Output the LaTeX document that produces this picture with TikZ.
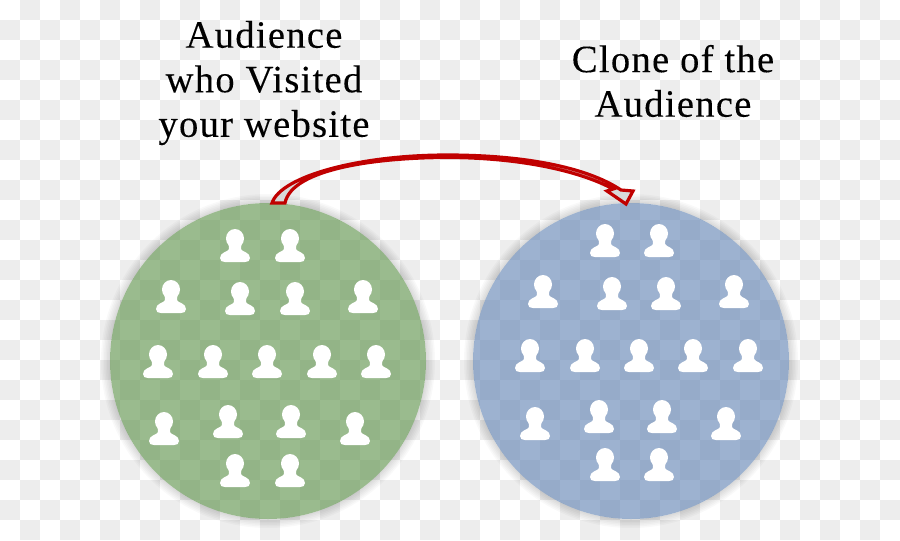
\documentclass[tikz,border=0pt]{standalone}
\usepackage{fontspec}
\setmainfont{Liberation Serif}[LetterSpace=3.2,FakeBold=0.15]
\definecolor{cellgray}{HTML}{EDEDED}
\definecolor{greenfill}{RGB}{88,142,68}
\definecolor{bluefill}{RGB}{92,128,177}
\definecolor{arrowred}{HTML}{C00000}
\definecolor{arrowcore}{HTML}{D8D8D8}
\tikzset{
  disc/.style={circle,inner sep=0pt,minimum size=237pt,fill opacity=0.6},
  caption/.style={align=center,font=\fontsize{29}{33.4}\selectfont,text=black,inner sep=0pt},
  pics/member/.style={code={
    \fill[white] (0,-7.5) ellipse [x radius=9,y radius=9.5];
    \fill[white] (-6.5,-3) -- (-6,3) .. controls (-7,6) and (-15,6) .. (-15,12)
      .. controls (-15,15) and (-13,16) .. (-10,16) -- (10,16)
      .. controls (13,16) and (15,15) .. (15,12)
      .. controls (15,6) and (7,6) .. (6,3) -- (6.5,-3) -- cycle;
  }}
}
\begin{document}
\begin{tikzpicture}[x=0.75pt,y=-0.75pt]
\useasboundingbox (0,0) rectangle (900,540);
% checkered backdrop
\fill[white] (0,0) rectangle (900,540);
\foreach \i in {0,...,44}{
  \foreach \j in {0,...,26}{
    \pgfmathparse{int(mod(\i+\j,2))}
    \ifnum\pgfmathresult=1
      \fill[cellgray] (20*\i,20*\j) rectangle (20*\i+20,20*\j+20);
    \fi
  }
}
% soft shadows round the discs, as rings that leave the disc interiors alone
\foreach \r in {159.5,161,162.5,164,165.5,167}{
  \fill[black,opacity=0.022,even odd rule] (268,361) circle [radius=158] (268,361) circle [radius=\r];
  \fill[black,opacity=0.022,even odd rule] (631,361) circle [radius=158] (631,361) circle [radius=\r];
}
% discs
\node[disc,fill=greenfill] (left) at (268,361) {};
\node[disc,fill=bluefill] (right) at (631,361) {};
% people in the left disc
\foreach \px/\py in {235/246,290/246,171/297,240/299,295/299,363/297,
  158/362,213/362,267/362,322/362,376/362,164/429,228/422,291/422,355/429,235/471,290/471}{
  \pic at (\px,\py) {member};
}
% people in the right disc
\foreach \px/\py in {605/241,659/241,543/292,612/294,666/294,734/292,
  530/356,585/356,639/356,693/356,748/356,535/424,599/417,662/417,726/424,605/465,659/465}{
  \pic at (\px,\py) {member};
}
% captions
\node[caption] (src) at (264,83) {Audience\\who Visited\\your website};
\node[caption] (dst) at (673,81) {Clone of the\\Audience};
% block arrow between the discs
\coordinate (tailA) at (272,203);
\coordinate (tailB) at (285,203);
\coordinate (tip) at (626,204);
\draw[arrowred,line width=2.4pt,line join=miter,fill=arrowcore]
  (tailA) .. controls (281,176) and (360,155) .. (447,155)
  .. controls (520,155) and (585,166) .. (621,190)
  -- (633,191) -- (tip) -- (607,191) -- (613,189)
  .. controls (580,171) and (520,157.5) .. (447,157.5)
  .. controls (380,157.5) and (292,168) .. (tailB) -- cycle;
\end{tikzpicture}
\end{document}
